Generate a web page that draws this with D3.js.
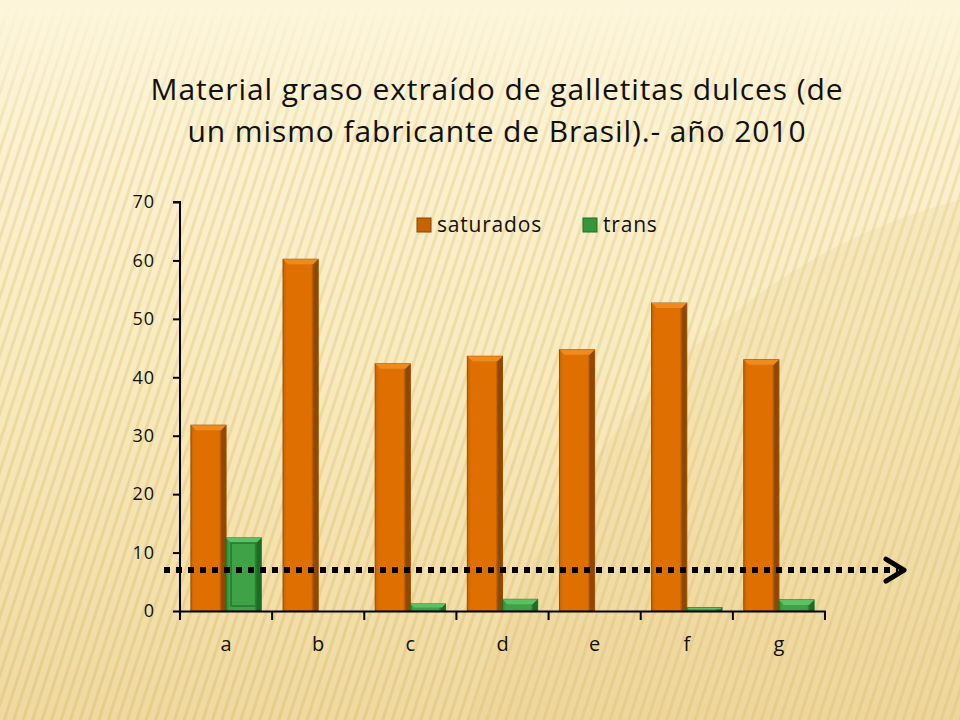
<!DOCTYPE html>
<html>
<head>
<meta charset="utf-8">
<script src="https://cdn.jsdelivr.net/npm/d3@7"></script>
<style>
  body { margin: 0; background: #fbf1d0; }
  svg { display: block; font-family: "Open Sans", "DejaVu Sans", sans-serif; }
</style>
</head>
<body>
<svg width="960" height="720"></svg>
<script>
const categories = ["a", "b", "c", "d", "e", "f", "g"]
const saturados = [31.8, 60.2, 42.3, 43.6, 44.7, 52.7, 43.0]
const trans = [12.5, 0, 1.2, 2.0, 0, 0.6, 1.9]
const series_names = ["saturados", "trans"]
const y_ticks = [0, 10, 20, 30, 40, 50, 60, 70]
const title_lines = ["Material graso extraído de galletitas dulces (de", "un mismo fabricante de Brasil).- año 2010"]
const marker_value = 7

const margin = { left: 180, right: 135, top: 202, bottom: 109 }
const width = 960, height = 720

const svg = d3.select("svg")
const defs = svg.append("defs")

// background: cream gradient with fine diagonal stripes
const bg_grad = defs.append("linearGradient").attr("id", "bg").attr("x1", 0).attr("y1", 0).attr("x2", 0).attr("y2", 1)
bg_grad.append("stop").attr("offset", "0").attr("stop-color", "#fdf6dc")
bg_grad.append("stop").attr("offset", "0.5").attr("stop-color", "#f9ebc0")
bg_grad.append("stop").attr("offset", "1").attr("stop-color", "#efd9a0")

const stripes = defs.append("pattern").attr("id", "stripes")
    .attr("width", 9).attr("height", 9)
    .attr("patternUnits", "userSpaceOnUse")
    .attr("patternTransform", "rotate(18)")
stripes.append("rect").attr("width", 3).attr("height", 9).attr("fill", "#d6b255").attr("opacity", 0.3)

const fade = defs.append("linearGradient").attr("id", "fade").attr("x1", 0).attr("y1", 0).attr("x2", 0).attr("y2", 1)
fade.append("stop").attr("offset", "0").attr("stop-color", "white").attr("stop-opacity", 0)
fade.append("stop").attr("offset", "0.06").attr("stop-color", "white").attr("stop-opacity", 0.25)
fade.append("stop").attr("offset", "0.2").attr("stop-color", "white").attr("stop-opacity", 0.8)
fade.append("stop").attr("offset", "1").attr("stop-color", "white").attr("stop-opacity", 1)
defs.append("mask").attr("id", "stripe_mask")
    .append("rect").attr("width", width).attr("height", height).attr("fill", "url(#fade)")

svg.append("rect").attr("width", width).attr("height", height).attr("fill", "url(#bg)")
svg.append("rect").attr("width", width).attr("height", height).attr("fill", "url(#stripes)").attr("mask", "url(#stripe_mask)")
svg.append("path")
    .attr("d", "M470,720 C560,420 760,250 960,200 L960,720 Z")
    .attr("fill", "#e8cf8c").attr("opacity", 0.22)

// bar gradients
function bar_gradient(id, light, mid, dark) {
    const g = defs.append("linearGradient").attr("id", id).attr("x1", 0).attr("x2", 1).attr("y1", 0).attr("y2", 0)
    g.append("stop").attr("offset", "0").attr("stop-color", light)
    g.append("stop").attr("offset", "0.1").attr("stop-color", mid)
    g.append("stop").attr("offset", "0.8").attr("stop-color", mid)
    g.append("stop").attr("offset", "0.88").attr("stop-color", dark)
    g.append("stop").attr("offset", "1").attr("stop-color", dark)
}
bar_gradient("orange_grad", "#c56200", "#df7000", "#8e4800")
bar_gradient("green_grad", "#2c8a35", "#3fa246", "#1d6b25")

// title
svg.append("text")
    .attr("x", 497).attr("y", 100)
    .attr("text-anchor", "middle")
    .style("font-size", "30px")
    .style("letter-spacing", "0.9px")
    .attr("fill", "#111")
    .selectAll("tspan")
    .data(title_lines)
    .enter()
    .append("tspan")
    .attr("x", 497)
    .attr("dy", (d, i) => i === 0 ? 0 : 42)
    .text(d => d)

// scales
const x = d3.scaleBand().domain(categories).range([margin.left, width - margin.right]).paddingInner(0).paddingOuter(0)
const x_inner = d3.scaleBand().domain(series_names).range([0, x.bandwidth()]).paddingInner(0).paddingOuter(0.31)
const y = d3.scaleLinear().domain([0, 70]).range([height - margin.bottom, margin.top])

// y axis
const y_axis = svg.append("g")
    .attr("transform", `translate(${margin.left},0)`)
    .call(d3.axisLeft(y).tickValues(y_ticks).tickSize(7).tickPadding(18))
y_axis.attr("font-size", null).attr("font-family", null)
y_axis.select(".domain").attr("stroke", "#000").attr("stroke-width", 2).attr("d", `M-7,${y(70)}H0V${y(0)}`)
y_axis.selectAll(".tick line").attr("stroke", "#000").attr("stroke-width", 2)
y_axis.selectAll(".tick text").style("font-size", "18px").style("letter-spacing", "1px").attr("fill", "#111")

// bars
const rows = categories.map((c, i) => ({ cat: c, values: [
    { name: "saturados", value: saturados[i] },
    { name: "trans", value: trans[i] }
]}))

const groups = svg.selectAll("g.group")
    .data(rows)
    .enter()
    .append("g")
    .attr("class", "group")
    .attr("transform", d => `translate(${x(d.cat)},0)`)

const bars = groups.selectAll("g.bar")
    .data(d => d.values.filter(v => v.value > 0))
    .enter()
    .append("g")
    .attr("class", "bar")

bars.append("rect")
    .attr("x", d => x_inner(d.name))
    .attr("y", d => y(d.value))
    .attr("width", x_inner.bandwidth())
    .attr("height", d => y(0) - y(d.value))
    .attr("fill", d => d.name === "saturados" ? "url(#orange_grad)" : "url(#green_grad)")
    .attr("stroke", d => d.name === "saturados" ? "#9a4d00" : "#1c6e25")
    .attr("stroke-width", 1)

// bevel top edge
bars.append("path")
    .attr("d", d => {
        const x0 = x_inner(d.name), w = x_inner.bandwidth(), y0 = y(d.value)
        const b = Math.min(5, (y(0) - y0) / 2)
        return `M${x0},${y0}H${x0 + w}L${x0 + w - b},${y0 + b}H${x0 + b}Z`
    })
    .attr("fill", d => d.name === "saturados" ? "#f08a1c" : "#5cc064")

// inner frame on the tall green bar
bars.filter(d => d.name === "trans" && y(0) - y(d.value) > 20)
    .append("rect")
    .attr("x", d => x_inner(d.name) + 5)
    .attr("y", d => y(d.value) + 5)
    .attr("width", x_inner.bandwidth() - 10)
    .attr("height", d => y(0) - y(d.value) - 10)
    .attr("fill", "none")
    .attr("stroke", "#24782c")
    .attr("stroke-width", 1.5)

// x axis
const x_axis = svg.append("g")
    .attr("transform", `translate(0,${y(0)})`)
    .call(d3.axisBottom(x).tickSize(0).tickPadding(26))
x_axis.attr("font-size", null).attr("font-family", null)
x_axis.select(".domain").attr("stroke", "#000").attr("stroke-width", 2)
x_axis.selectAll(".tick text").style("font-size", "20px").attr("fill", "#111")
x_axis.selectAll("line.sep")
    .data(d3.range(categories.length + 1))
    .enter()
    .append("line")
    .attr("class", "sep")
    .attr("x1", i => margin.left + i * x.bandwidth())
    .attr("x2", i => margin.left + i * x.bandwidth())
    .attr("y1", 0).attr("y2", 9)
    .attr("stroke", "#000").attr("stroke-width", 2)

// dotted arrow annotation
const my = y(marker_value)
svg.append("line")
    .attr("x1", 164).attr("x2", 898)
    .attr("y1", my).attr("y2", my)
    .attr("stroke", "#000").attr("stroke-width", 6)
    .attr("stroke-dasharray", "6 6")
svg.append("path")
    .attr("d", `M886,${my - 11}L904,${my}L886,${my + 11}`)
    .attr("fill", "none").attr("stroke", "#000").attr("stroke-width", 5)
    .attr("stroke-linecap", "round").attr("stroke-linejoin", "round")

// legend
const legend_x = [417, 583]
const legend = svg.selectAll("g.legend")
    .data(series_names)
    .enter()
    .append("g")
    .attr("class", "legend")
    .attr("transform", (d, i) => `translate(${legend_x[i]},218)`)
legend.append("rect")
    .attr("width", 14).attr("height", 14)
    .attr("fill", d => d === "saturados" ? "#c86400" : "#35963d")
    .attr("stroke", d => d === "saturados" ? "#8a4500" : "#1c6e25")
legend.append("text")
    .attr("x", 20).attr("y", 14)
    .style("font-size", "21px")
    .style("letter-spacing", "0.8px")
    .attr("fill", "#111")
    .text(d => d)
</script>
</body>
</html>
